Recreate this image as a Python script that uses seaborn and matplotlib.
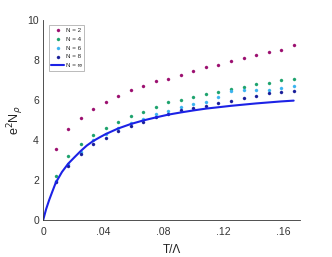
import numpy as np
import pandas as pd
import matplotlib
matplotlib.use('Agg')
import matplotlib.pyplot as plt
import seaborn as sns

# temperature grid T/Lambda (k/120)
t = [k / 120 for k in range(1, 21)]

n2 = [3.55, 4.53, 5.12, 5.53, 5.90, 6.22, 6.52, 6.72, 6.95, 7.07,
      7.23, 7.45, 7.65, 7.77, 7.95, 8.10, 8.23, 8.38, 8.48, 8.75]
n4 = [2.22, 3.18, 3.80, 4.25, 4.60, 4.90, 5.20, 5.40, 5.63, 5.88,
      6.00, 6.13, 6.28, 6.38, 6.55, 6.67, 6.80, 6.87, 7.00, 7.03]
n6 = [1.95, 2.80, 3.42, 3.98, 4.28, 4.60, 4.85, 5.05, 5.28, 5.45,
      5.63, 5.78, 5.92, 6.17, 6.45, 6.52, 6.50, 6.50, 6.58, 6.68]
n8 = [1.90, 2.72, 3.30, 3.78, 4.12, 4.45, 4.70, 4.92, 5.13, 5.30,
      5.50, 5.58, 5.72, 5.83, 5.97, 6.08, 6.20, 6.33, 6.42, 6.47]

# large-N curve
t_inf = [0, 0.002, 0.004, 0.006, 0.0083, 0.0125, 0.0167, 0.021, 0.025, 0.029,
         0.0333, 0.0375, 0.0417, 0.05, 0.0583, 0.0667, 0.075, 0.0833, 0.0917,
         0.1, 0.1083, 0.1167, 0.125, 0.1333, 0.1417, 0.15, 0.1583, 0.1667]
n_inf = [0, 0.55, 1.0, 1.4, 1.85, 2.4, 2.82, 3.15, 3.45, 3.72,
         3.95, 4.13, 4.3, 4.58, 4.8, 4.98, 5.13, 5.27, 5.38,
         5.48, 5.57, 5.64, 5.71, 5.77, 5.83, 5.88, 5.93, 5.97]

labels = ['N = 2', 'N = 4', 'N = 6', 'N = 8']
colors = ['#9c1070', '#1ea36e', '#3cb4f0', '#1a1f9a']

sns.set_style('white')
plt.rcParams['font.family'] = ['Liberation Sans', 'DejaVu Sans']

fig = plt.figure(figsize=(3.32, 2.57), dpi=100)
ax = fig.add_axes([0.13, 0.144, 0.774, 0.778])

for vals, lab, c in zip([n2, n4, n6, n8], labels, colors):
    df = pd.DataFrame({'t': t, 'y': vals})
    sns.scatterplot(data=df, x='t', y='y', ax=ax, marker='o', s=5, color=c,
                    edgecolor=c, linewidth=0.2, label=lab)

df_inf = pd.DataFrame({'t': t_inf, 'y': n_inf})
sns.lineplot(data=df_inf, x='t', y='y', ax=ax, color='#1c22e6', lw=1.5,
             label='N = \u221e')

ax.set_xlim(0, 0.171)
ax.set_ylim(0, 10)
ax.set_xticks([0, 0.04, 0.08, 0.12, 0.16])
ax.set_xticklabels(['0', '.04', '.08', '.12', '.16'])
ax.set_yticks([0, 2, 4, 6, 8, 10])
ax.tick_params(direction='in', length=2, width=0.5, labelsize=7.5, pad=3,
               colors='#333333')
ax.tick_params(axis='x', pad=5)
for s in ['top', 'right']:
    ax.spines[s].set_visible(False)
for s in ['left', 'bottom']:
    ax.spines[s].set_linewidth(0.6)
    ax.spines[s].set_color('#333333')

ax.set_xlabel('T/\u039b', fontsize=8.5, labelpad=5, color='#222222')
ax.set_ylabel('e$^2$N$_\\rho$', fontsize=9, labelpad=1, color='#222222')

leg = ax.legend(loc='upper left', fontsize=4.5, frameon=True, fancybox=False,
                borderpad=0.4, handlelength=2.0, labelspacing=0.55,
                handletextpad=0.3, bbox_to_anchor=(0.01, 0.99))
leg.get_frame().set_edgecolor('#888888')
leg.get_frame().set_linewidth(0.5)

fig.savefig('out.png', dpi=100)
